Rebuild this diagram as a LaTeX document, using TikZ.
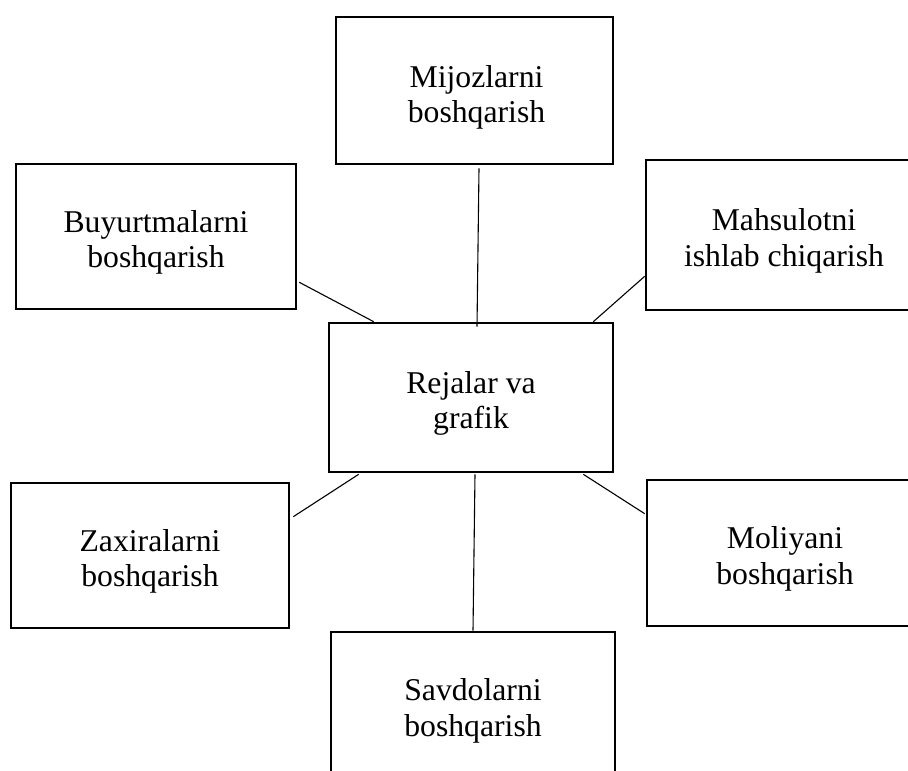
\documentclass[tikz,border=0pt]{standalone}
\usepackage{fontspec}
\setmainfont{Liberation Serif}
\usetikzlibrary{calc}

\tikzset{
  unit/.style={draw=black, line width=2.6pt, inner sep=0pt},
  caption/.style={align=center, inner sep=0pt,
    font=\fontsize{31.7}{35.5}\selectfont},
  link/.style={draw=black, line width=1.1pt}
}

\begin{document}
\begin{tikzpicture}[x=1pt, y=-1pt]
  % page frame (pixels as points, y downward)
  \path[use as bounding box] (0,0) rectangle (908,771);
  \clip (0,0) rectangle (908,771);

  % central unit
  \node[unit, minimum width=284pt, minimum height=149pt] (rej) at (471,397.5) {};

  % surrounding units
  \node[unit, minimum width=277pt, minimum height=147pt] (mij) at (474.5,90.5) {};
  \node[unit, minimum width=280pt, minimum height=145pt] (buy) at (156,236.5) {};
  \node[unit, minimum width=276pt, minimum height=150pt] (mah) at (784,235) {};
  \node[unit, minimum width=278pt, minimum height=145pt] (zax) at (150,555.5) {};
  \node[unit, minimum width=276pt, minimum height=146pt] (mol) at (785,553) {};
  \node[unit, minimum width=284pt, minimum height=150pt] (sav) at (473,707) {};

  % captions, set slightly below each box centre
  \node[caption] (rejt) at ($(rej.center)+(0,6)$) {Rejalar va\\grafik};
  \node[caption] (mijt) at ($(mij.center)+(2,7)$) {Mijozlarni\\boshqarish};
  \node[caption] (buyt) at ($(buy.center)+(0,6)$) {Buyurtmalarni\\boshqarish};
  \node[caption] (maht) at ($(mah.center)+(0,6)$) {Mahsulotni\\ishlab chiqarish};
  \node[caption] (zaxt) at ($(zax.center)+(0,6)$) {Zaxiralarni\\boshqarish};
  \node[caption] (molt) at ($(mol.center)+(0,6)$) {Moliyani\\boshqarish};
  \node[caption] (savt) at ($(sav.center)+(0,4)$) {Savdolarni\\boshqarish};

  % links to the central unit
  \draw[link] ($(mij.south)+(4.5,3)$) -- ($(rej.north)+(6,5)$);
  \draw[link] ($(buy.south east)+(2,-28)$) -- ($(rej.north west)+(46,0)$);
  \draw[link] ($(mah.south west)+(0,-35)$) -- ($(rej.north east)+(-21,0)$);
  \draw[link] ($(zax.north east)+(3,35)$) -- ($(rej.south west)+(31,1)$);
  \draw[link] ($(mol.north west)+(-1,35)$) -- ($(rej.south east)+(-31,1)$);
  \draw[link] (sav.north) -- ($(rej.south)+(4,1)$);
\end{tikzpicture}
\end{document}
